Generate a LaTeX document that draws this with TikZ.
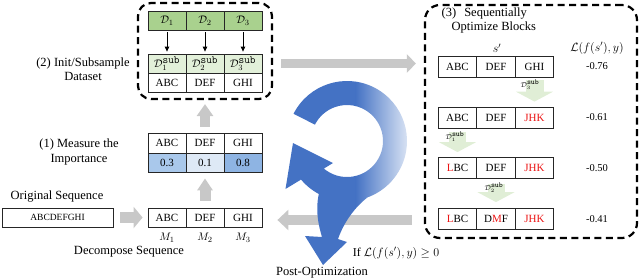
\documentclass[tikz,border=0pt]{standalone}
\usepackage{fontspec}
\setmainfont{Liberation Serif}
\usetikzlibrary{arrows.meta,calc}
\definecolor{grn}{RGB}{169,209,142}
\definecolor{lgrn}{RGB}{226,240,217}
\definecolor{arrgrn}{RGB}{224,238,214}
\definecolor{bthree}{RGB}{169,200,235}
\definecolor{bone}{RGB}{222,233,246}
\definecolor{beight}{RGB}{142,180,227}
\definecolor{grayarr}{RGB}{200,200,200}
\definecolor{blueA}{RGB}{68,114,196}
\definecolor{blueL}{RGB}{218,228,244}
\definecolor{redt}{RGB}{235,20,20}
\begin{document}
\begin{tikzpicture}[x=1pt,y=1pt,
  cell/.style={draw=black!85, line width=0.8pt, minimum width=38pt, minimum height=19pt, inner sep=0pt, font=\fontsize{11}{12}\selectfont},
  rcell/.style={cell, minimum width=38.5pt, minimum height=21pt},
  lbl/.style={inner sep=0pt, font=\fontsize{12.5}{14.5}\selectfont},
  score/.style={inner sep=0pt, font=\fontsize{10.5}{12}\selectfont},
  dbox/.style={draw=black, line width=2.2pt, dash pattern=on 7pt off 4.5pt, rounded corners=13pt, inner sep=0pt},
  blk/.style={draw=black, line width=0.8pt, -{Triangle[length=5pt,width=4.5pt]}, shorten <=2pt, shorten >=2pt},
  garr/.style={draw=grayarr, line width=#1},
  gtrans/.style={draw=arrgrn, line width=18pt, -{Triangle[length=10pt,width=37pt]}},
  sublbl/.style={inner sep=0pt, font=\fontsize{7.5}{8}\selectfont}
]
\useasboundingbox (0,0) rectangle (640,-279);

% ---------- left: dataset box ----------
\node[dbox, minimum width=134pt, minimum height=96pt] (DS) at (205,-51) {};
\node[cell, fill=grn] (D1) at (167,-20.5) {$\mathcal{D}_1$};
\node[cell, fill=grn] (D2) at (205,-20.5) {$\mathcal{D}_2$};
\node[cell, fill=grn] (D3) at (243,-20.5) {$\mathcal{D}_3$};
\node[cell, fill=lgrn] (S1) at (167,-63.5) {$\mathcal{D}_1^{\texttt{sub}}$};
\node[cell, fill=lgrn] (S2) at (205,-63.5) {$\mathcal{D}_2^{\texttt{sub}}$};
\node[cell, fill=lgrn] (S3) at (243,-63.5) {$\mathcal{D}_3^{\texttt{sub}}$};
\node[cell] (T1) at (167,-82.5) {ABC};
\node[cell] (T2) at (205,-82.5) {DEF};
\node[cell] (T3) at (243,-82.5) {GHI};
\draw[blk] (D1) -- (S1);
\draw[blk] (D2) -- (S2);
\draw[blk] (D3) -- (S3);
\node[lbl, align=center] (lab2) at (83,-69) {(2) Init/Subsample\\Dataset};

% ---------- importance ----------
\node[cell, minimum height=20pt] (I1) at (167,-143) {ABC};
\node[cell, minimum height=20pt] (I2) at (205,-143) {DEF};
\node[cell, minimum height=20pt] (I3) at (243,-143) {GHI};
\node[cell, fill=bthree] (V1) at (167,-162.5) {0.3};
\node[cell, fill=bone] (V2) at (205,-162.5) {0.1};
\node[cell, fill=beight] (V3) at (243,-162.5) {0.8};
\node[lbl, align=center] (lab1) at (79,-152) {(1) Measure the\\Importance};

% ---------- decomposed ----------
\node[cell] (M1) at (167,-217.5) {ABC};
\node[cell] (M2) at (205,-217.5) {DEF};
\node[cell] (M3) at (243,-217.5) {GHI};
\node[inner sep=0pt, font=\fontsize{11}{12}\selectfont] (m1) at (167,-238) {$M_1$};
\node[inner sep=0pt, font=\fontsize{11}{12}\selectfont] (m2) at (205,-238) {$M_2$};
\node[inner sep=0pt, font=\fontsize{11}{12}\selectfont] (m3) at (243,-238) {$M_3$};
\node[lbl] (labdec) at (129,-252) {Decompose Sequence};

% ---------- original ----------
\node[cell, minimum width=111pt, font=\fontsize{9.5}{11}\selectfont] (orig) at (57.5,-217.5) {ABCDEFGHI};
\node[lbl] (laborig) at (57,-197) {Original Sequence};

% ---------- gray arrows ----------
\draw[garr=11pt, -{Triangle[length=9pt,width=21pt]}, shorten <=7pt, shorten >=5pt] (orig.east) -- (M1.west);
\draw[garr=11pt, -{Triangle[length=12pt,width=15pt]}, shorten <=7pt, shorten >=6pt] (M2.north) -- (V2.south);
\draw[garr=9.5pt, -{Triangle[length=12pt,width=16pt]}, shorten <=6pt, shorten >=4pt] (I2.north) -- (DS.south);

% ---------- right box ----------
\node[dbox, rounded corners=15pt, minimum width=212pt, minimum height=233pt] (OB) at (531,-121.5) {};
\node[lbl, align=left, anchor=west] (lab3) at (441.5,-20.5) {(3)\hspace{8pt}Sequentially\\\hspace{10pt}Optimize Blocks};
\node[inner sep=0pt, font=\fontsize{12}{13}\selectfont] (hs) at (497,-48) {$s'$};
\node[inner sep=0pt, font=\fontsize{12}{13}\selectfont] (hl) at (597,-48) {$\mathcal{L}(f(s'),y)$};

\node[rcell] (A1) at (457.5,-66.5) {ABC};
\node[rcell] (A2) at (496,-66.5) {DEF};
\node[rcell] (A3) at (534.5,-66.5) {GHI};
\node[score] (sa) at (597,-66.5) {-0.76};

\node[rcell] (B1) at (457.5,-117.5) {ABC};
\node[rcell] (B2) at (496,-117.5) {DEF};
\node[rcell] (B3) at (534.5,-117.5) {\textcolor{redt}{JHK}};
\node[score] (sb) at (597,-117.5) {-0.61};

\node[rcell] (C1) at (457.5,-168) {\textcolor{redt}{L}BC};
\node[rcell] (C2) at (496,-168) {DEF};
\node[rcell] (C3) at (534.5,-168) {\textcolor{redt}{JHK}};
\node[score] (sc) at (597,-168) {-0.50};

\node[rcell] (E1) at (457.5,-219) {\textcolor{redt}{L}BC};
\node[rcell] (E2) at (496,-219) {D\textcolor{redt}{M}F};
\node[rcell] (E3) at (534.5,-219) {\textcolor{redt}{JHK}};
\node[score] (se) at (597,-219) {-0.41};

\draw[gtrans, shorten <=3pt, shorten >=5pt] (A3.south) -- (B3.north);
\draw[gtrans, line width=17pt, shorten <=4pt, shorten >=5pt] (B1.south) -- (C1.north);
\draw[gtrans, line width=17pt, shorten <=5pt, shorten >=6pt] (C2.south) -- (E2.north);
\node[sublbl] (g1) at (530,-85) {$\mathcal{D}_3^{\texttt{sub}}$};
\node[sublbl] (g2) at (455,-137) {$\mathcal{D}_1^{\texttt{sub}}$};
\node[sublbl] (g3) at (494,-188) {$\mathcal{D}_2^{\texttt{sub}}$};

% ---------- connecting gray arrows ----------
\draw[garr=9pt, -{Triangle[length=9pt,width=18pt]}, shorten <=8pt, shorten >=8pt] (DS.east |- 0,-63.5) -- (OB.west |- 0,-63.5);
\draw[garr=10pt, -{Triangle[length=11pt,width=20pt]}, shorten <=12pt, shorten >=15pt] (OB.west |- 0,-220) -- (M3.east |- 0,-220);

% ---------- blue cyclic arrow ----------
\begin{scope}
\clip ($(347,-141)+(153:60)$) arc[start angle=153,end angle=-140,radius=60]
  -- (285.5,-189) -- (293,-143) -- (333,-163)
  -- ($(347,-141)+(-130:36)$) arc[start angle=-130,end angle=153,radius=36] -- cycle;
\fill[blueA] (280,-75) rectangle (356,-280);
\shade[left color=blueA,right color=blueL] (355.5,-75) rectangle (408,-280);
\end{scope}
\begin{scope}
\clip (318.8,-194) .. controls (315,-212) and (319,-227) .. (322,-237)
  -- (305,-236) -- (323,-265) -- (347,-242) -- (338,-239)
  .. controls (344,-222) and (355,-207) .. (367.5,-197.4) -- cycle;
\fill[blueA] (280,-75) rectangle (356,-280);
\shade[left color=blueA,right color=blueL] (355.5,-75) rectangle (408,-280);
\end{scope}

\node[inner sep=0pt, font=\fontsize{12}{13}\selectfont] (cond) at (396,-253) {If $\mathcal{L}(f(s'),y)\geq 0$};
\node[lbl] (post) at (322,-273) {Post-Optimization};
\end{tikzpicture}
\end{document}
